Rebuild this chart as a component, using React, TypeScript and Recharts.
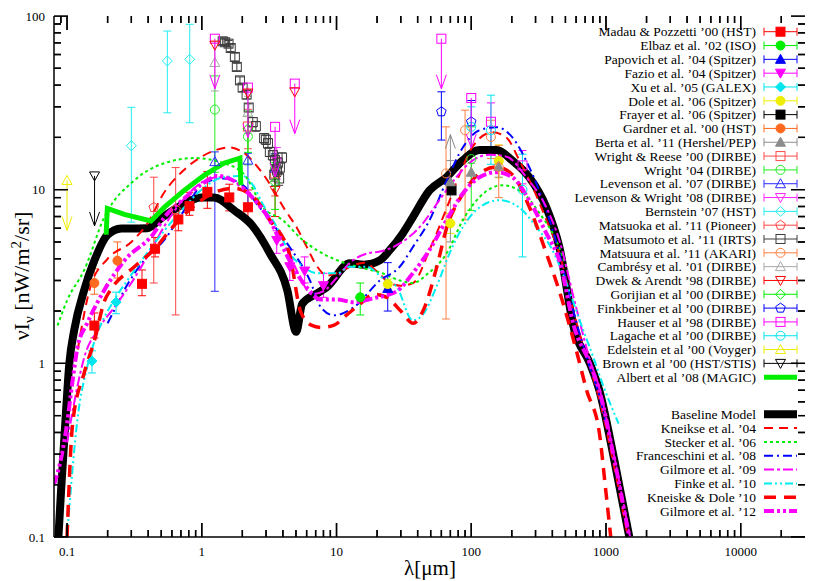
import React from 'react';
import { ComposedChart, Line, Scatter, XAxis, YAxis, ErrorBar, Legend } from 'recharts';

type P = { x: number; y: number; lo?: number; hi?: number };
type Pair = [number, number];

// ---------------- axes ----------------
const X_MIN = 0.08;
const X_MAX = 30000;
const Y_MIN = 0.1;
const Y_MAX = 100;
const xMajorTicks = [0.1, 1, 10, 100, 1000, 10000];
const xTickLabels = ['0.1', '1', '10', '100', '1000', '10000'];
const yMajorTicks = [0.1, 1, 10, 100];
const yTickLabels = ['0.1', '1', '10', '100'];
const minorFactors = [2, 3, 4, 5, 6, 7, 8, 9];
const decades = [0.01, 0.1, 1, 10, 100, 1000, 10000];

// ---------------- data sets (lambda [um], nuI_nu [nW/m2/sr]) ----------------
const madauPozzetti: P[] = [
  { x: 0.1595, y: 1.65, lo: 0.25, hi: 0.3 },
  { x: 0.36, y: 2.87, lo: 0.42, hi: 0.58 },
  { x: 0.45, y: 4.57, lo: 0.47, hi: 0.73 },
  { x: 0.67, y: 6.74, lo: 0.94, hi: 1.25 },
  { x: 0.81, y: 8.04, lo: 0.92, hi: 1.62 },
  { x: 1.1, y: 9.71, lo: 1.9, hi: 3.0 },
  { x: 1.6, y: 9.02, lo: 1.47, hi: 1.73 },
  { x: 2.2, y: 7.92, lo: 1.21, hi: 2.04 },
];
const elbaz: P[] = [{ x: 15, y: 2.4, lo: 0.5, hi: 0.5 }];
const papovich: P[] = [{ x: 24, y: 2.7, lo: 0.7, hi: 1.1 }];
const fazio: P[] = [
  { x: 3.6, y: 5.1, lo: 0.8, hi: 0.7 },
  { x: 4.5, y: 3.6, lo: 0.6, hi: 0.9 },
  { x: 5.8, y: 3.4, lo: 0.5, hi: 0.7 },
  { x: 8.0, y: 2.8, lo: 0.4, hi: 0.5 },
];
const xu: P[] = [
  { x: 0.153, y: 1.03, lo: 0.15, hi: 0.15 },
  { x: 0.231, y: 2.25, lo: 0.32, hi: 0.32 },
];
const dole: P[] = [
  { x: 24, y: 2.86, lo: 0.16, hi: 0.19 },
  { x: 70, y: 6.4, lo: 0.8, hi: 0.9 },
  { x: 160, y: 14.6, lo: 2.9, hi: 3.5 },
];
const frayer: P[] = [{ x: 71.4, y: 9.9 }];
const gardner: P[] = [
  { x: 0.1595, y: 2.9, lo: 0.4, hi: 0.6 },
  { x: 0.2365, y: 3.9, lo: 0.8, hi: 1.1 },
];
const berta: P[] = [
  { x: 70, y: 11.1, lo: 6.1, hi: 3.6 },
  { x: 100, y: 12.6, lo: 1.6, hi: 1.6 },
  { x: 160, y: 13.6, lo: 1.8, hi: 1.8 },
];
const bertaLimits: P[] = [{ x: 70, y: 14.7 }];
const wrightReese: P[] = [
  { x: 2.2, y: 23.1, lo: 5.9, hi: 5.9 },
  { x: 3.5, y: 12.4, lo: 3.2, hi: 3.2 },
];
const wright04: P[] = [
  { x: 1.25, y: 28.9, lo: 16.3, hi: 16.3 },
  { x: 2.2, y: 20.2, lo: 6.3, hi: 6.3 },
  { x: 3.5, y: 13.3, lo: 2.8, hi: 2.8 },
  { x: 100, y: 15, lo: 7.4, hi: 8 },
];
const levenson07: P[] = [
  { x: 1.25, y: 14.5, lo: 11.9, hi: 2 },
  { x: 2.2, y: 14.8, lo: 6.9, hi: 1.4 },
  { x: 3.5, y: 13.3, lo: 2.8, hi: 2.8 },
];
const levensonWright08: P[] = [{ x: 3.6, y: 14.5, lo: 3, hi: 3 }];
const bernstein: P[] = [
  { x: 0.3, y: 17.9, lo: 11.4, hi: 11.9 },
  { x: 0.555, y: 55.1, lo: 27.4, hi: 26.8 },
  { x: 0.814, y: 56.3, lo: 32, hi: 33.3 },
];
const matsuoka: P[] = [
  { x: 0.44, y: 7.9, lo: 5.0, hi: 3.9 },
  { x: 0.64, y: 7.7, lo: 5.8, hi: 5.7 },
];
const matsumoto: P[] = [
  { x: 1.43, y: 71.5, lo: 3, hi: 3 },
  { x: 1.49, y: 70.6, lo: 3, hi: 3 },
  { x: 1.58, y: 69.3, lo: 3, hi: 3 },
  { x: 1.64, y: 65.4, lo: 3, hi: 3 },
  { x: 1.76, y: 58.1, lo: 3, hi: 3 },
  { x: 1.82, y: 50.9, lo: 2.5, hi: 2.5 },
  { x: 1.92, y: 42.6, lo: 2, hi: 2 },
  { x: 2.01, y: 38.7, lo: 2, hi: 2 },
  { x: 2.15, y: 35.3, lo: 2, hi: 2 },
  { x: 2.23, y: 29.7, lo: 1.5, hi: 1.5 },
  { x: 2.39, y: 24.5, lo: 1.5, hi: 1.5 },
  { x: 2.52, y: 23.2, lo: 1.5, hi: 1.5 },
  { x: 2.9, y: 19.8, lo: 1.2, hi: 1.2 },
  { x: 2.99, y: 19.4, lo: 1.2, hi: 1.2 },
  { x: 3.1, y: 18.5, lo: 1.2, hi: 1.2 },
  { x: 3.2, y: 16.5, lo: 1, hi: 1 },
  { x: 3.37, y: 15.8, lo: 1, hi: 1 },
  { x: 3.49, y: 14.8, lo: 1, hi: 1 },
  { x: 3.67, y: 14.3, lo: 1, hi: 1 },
  { x: 3.62, y: 12.9, lo: 1, hi: 1 },
  { x: 3.94, y: 15.3, lo: 1, hi: 1 },
  { x: 3.8, y: 13.4, lo: 1, hi: 1 },
  { x: 3.45, y: 12.2, lo: 1, hi: 1 },
  { x: 3.75, y: 11.6, lo: 1, hi: 1 },
];
const matsuura: P[] = [
  { x: 65, y: 12.4, lo: 10.6, hi: 10.6 },
  { x: 90, y: 22, lo: 15.3, hi: 6.7 },
  { x: 140, y: 20.1, lo: 5, hi: 5 },
  { x: 160, y: 13.5, lo: 4.5, hi: 4.5 },
];
const cambresy: P[] = [
  { x: 1.25, y: 54, lo: 17, hi: 17 },
  { x: 2.2, y: 27.8, lo: 6.7, hi: 6.7 },
];
const dwekArendt: P[] = [{ x: 3.5, y: 9.9, lo: 2.9, hi: 2.9 }];
const dwekLimits: P[] = [
  { x: 1.25, y: 68 },
  { x: 2.2, y: 36 },
  { x: 4.9, y: 36.6 },
];
const gorjian: P[] = [
  { x: 2.2, y: 22.4, lo: 6, hi: 6 },
  { x: 3.5, y: 11, lo: 3.3, hi: 3.3 },
];
const finkbeiner: P[] = [
  { x: 60, y: 28.1, lo: 8.8, hi: 8.5 },
  { x: 100, y: 24.6, lo: 8, hi: 8 },
];
const hauser: P[] = [
  { x: 140, y: 24.6, lo: 7, hi: 7 },
  { x: 240, y: 13.8, lo: 3, hi: 3 },
];
const hauserLimits: P[] = [
  { x: 1.25, y: 74 },
  { x: 2.2, y: 38.7 },
  { x: 3.5, y: 23 },
  { x: 4.9, y: 40.8 },
  { x: 60, y: 74 },
  { x: 100, y: 33.7 },
];
const lagache: P[] = [
  { x: 100, y: 23, lo: 7, hi: 7 },
  { x: 140, y: 22, lo: 8, hi: 13 },
  { x: 240, y: 10, lo: 5.9, hi: 6 },
];
const edelsteinLimits: P[] = [{ x: 0.1, y: 11.3 }];
const brownLimits: P[] = [{ x: 0.16, y: 12 }];
const albertMagic: Pair[] = [
  [0.195, 5.5], [0.199, 7.8], [0.266, 7.2], [0.42, 6.6], [0.526, 7.9], [0.74, 9.9],
  [1.04, 12.1], [1.46, 14.2], [1.92, 15.2], [1.95, 10.6],
];

// ---------------- models ----------------
const baselineModel: Pair[] = [
  [0.0863, 0.1], [0.0903, 0.186], [0.097, 0.45], [0.104, 1.0], [0.113, 1.55], [0.134, 2.64],
  [0.16, 3.93], [0.199, 5.47], [0.253, 5.97], [0.394, 6.0], [0.5, 6.84], [0.7, 8.1],
  [0.99, 9.0], [1.23, 9.0], [1.74, 7.6], [2.36, 6.24], [3.2, 4.3], [4.31, 2.64], [5.02, 1.52],
  [5.56, 2.2], [7.18, 2.53], [8.45, 2.74], [12.6, 3.77], [16, 3.7], [21, 3.92], [24.8, 4.48],
  [31, 5.6], [36.7, 6.9], [49, 9.9], [65.6, 11.8], [86, 14.7], [115, 16.9], [154, 16.9],
  [202, 14.7], [269, 11.8], [361, 7.9], [451, 4.66], [583, 1.55], [759, 1.0], [892, 0.7],
  [1153, 0.277], [1490, 0.1],
];
const kneiske04: Pair[] = [
  [0.12, 1.2], [0.15, 2.8], [0.2, 4.0], [0.3, 5.0], [0.4, 6.5], [0.52, 9.5], [0.73, 12.9],
  [1.0, 15.5], [1.3, 17], [1.6, 17.5], [2.0, 16.5], [2.7, 13], [3.4, 10], [4.0, 8], [5.1, 6],
  [6.0, 4.7], [7.2, 3.6], [8.5, 3.2], [10, 3.3], [12.6, 3.6], [16, 3.8], [19.8, 3.4],
  [24.8, 2.9], [30, 2.8], [37, 2.9], [49, 4.5], [66, 7.9], [86, 13.4], [102, 17.6],
  [144, 21.4], [182, 20], [228, 14.7], [286, 10.3], [361, 6.7], [451, 4.3], [583, 1.9],
  [759, 0.95], [892, 0.62], [1153, 0.25], [1490, 0.09],
];
const stecker06: Pair[] = [
  [0.085, 1.65], [0.1, 2.3], [0.134, 3.44], [0.189, 6.94], [0.315, 11.3], [0.526, 14.2],
  [0.88, 15.2], [1.46, 14.2], [2.09, 12.1], [2.85, 7.9], [4.0, 6.67], [5.35, 5.3],
  [7.16, 4.48], [10.1, 3.92], [14.9, 3.57], [22, 3.3], [29.5, 3.0], [36.8, 2.9], [48, 3.3],
  [65.7, 4.3], [86.6, 6.67], [115, 9.04], [170, 10.6], [240, 9.6], [322, 7.3], [427, 5.1],
  [520, 3.4],
];
const franceschini08: Pair[] = [
  [0.2, 1.7], [0.224, 2.02], [0.266, 2.64], [0.374, 3.93], [0.526, 5.12], [0.74, 7.6],
  [1.04, 10.9], [1.46, 11.6], [2.06, 10.5], [2.5, 8.5], [3.2, 6.67], [4.5, 4.66], [6.35, 3.0],
  [7.66, 2.1], [9.55, 1.89], [13.4, 2.1], [21, 3.0], [29.5, 3.6], [36.8, 4.66], [49, 6.67],
  [65.7, 11.3], [86.6, 17.5], [115, 22], [154, 22.9], [202, 20], [269, 13.5], [361, 7.6],
  [451, 4.3], [583, 1.9], [759, 0.95], [892, 0.65], [1000, 0.45],
];
const gilmore09: Pair[] = [
  [0.1, 0.35], [0.12, 0.75], [0.134, 1.08], [0.168, 1.55], [0.224, 2.1], [0.3, 2.9],
  [0.4, 4.2], [0.55, 6.5], [0.75, 9], [1.0, 11], [1.3, 11.8], [1.8, 11], [2.4, 9], [3.2, 6.5],
  [4.5, 4.2], [5.5, 3.0], [6.5, 2.5], [8, 2.6], [10, 3.1], [12.6, 3.8], [17, 4.3], [21, 4.4],
  [29.5, 4.9], [41.5, 6.1], [58, 8.7], [77.5, 11.8], [102, 14.7], [137, 15.9], [182, 15.5],
  [256, 11.8], [361, 7.9], [451, 5.1], [583, 2.3], [759, 1.05], [892, 0.72], [1153, 0.29],
  [1490, 0.105], [1600, 0.08],
];
const finke10: Pair[] = [
  [0.1, 0.1], [0.12, 0.49], [0.141, 0.95], [0.168, 1.49], [0.224, 2.32], [0.28, 3.0],
  [0.374, 4.1], [0.526, 5.8], [0.74, 7.9], [1.04, 10.3], [1.46, 11.8], [2.0, 12.0],
  [2.4, 10.6], [2.85, 8.2], [3.6, 6.1], [4.5, 4.3], [5.65, 3.6], [7.2, 3.3], [10.1, 3.3],
  [12.6, 3.6], [16.7, 3.6], [22, 3.1], [28, 2.75], [36.8, 1.77], [43.6, 1.9], [55, 2.75],
  [69, 4.3], [86.6, 6.1], [115, 7.9], [162, 8.7], [227, 7.9], [304, 6.1], [400, 4.5],
  [500, 3.0], [650, 1.7], [800, 1.1], [950, 0.75], [1240, 0.45],
];
const kneiskeDole10: Pair[] = [
  [0.1, 0.1], [0.11, 0.45], [0.134, 0.88], [0.16, 1.36], [0.19, 2.3], [0.21, 2.64],
  [0.316, 3.6], [0.44, 4.5], [0.62, 6.2], [0.88, 8.1], [1.23, 9.6], [1.74, 10.2], [2.44, 9.0],
  [3.2, 6.7], [4.5, 4.2], [5.4, 2.0], [6.5, 1.66], [7.7, 1.61], [9.6, 1.66], [11.9, 1.9],
  [15, 2.2], [19, 2.5], [23.6, 2.4], [30, 2.0], [37, 1.7], [45, 2.1], [55, 3.5], [66, 6.1],
  [87, 9.5], [115, 12.4], [154, 13.5], [202, 12.2], [269, 8], [361, 4.3], [451, 2.6],
  [600, 1.2], [718, 0.7], [892, 0.4], [1000, 0.18], [1085, 0.1],
];
const gilmore12: Pair[] = [
  [0.08, 0.2], [0.09, 0.28], [0.1, 0.45], [0.11, 0.8], [0.12, 1.25], [0.141, 1.7],
  [0.189, 2.64], [0.266, 3.9], [0.44, 5.6], [0.526, 6.9], [0.74, 8.9], [1.04, 11], [1.3, 12],
  [1.74, 11.2], [2.44, 8.8], [3.2, 6.67], [4.0, 4.66], [4.75, 3.6], [6.0, 2.74], [7.66, 2.33],
  [10.1, 2.33], [13.4, 2.25], [18.9, 2.37], [28, 2.6], [36.8, 3.3], [49, 4.5], [65.7, 6.7],
  [86.6, 9.5], [115, 11.8], [154, 12.6], [202, 11.8], [269, 8.7], [361, 5.6], [451, 3.9],
  [583, 1.6], [759, 1.0], [892, 0.7], [1153, 0.28], [1490, 0.1], [1600, 0.075],
];

// ---------------- styling tables ----------------
const FONT = "'Liberation Serif', 'Times New Roman', serif";
type Kind = 'square' | 'circle' | 'triangle' | 'triangleDown' | 'diamond' | 'pentagon' | 'none';
type DataSet = { name: string; color: string; kind: Kind; filled: boolean; data: P[] };

const dataSets: DataSet[] = [
  { name: 'Madau & Pozzetti \u201900 (HST)', color: '#ff0000', kind: 'square', filled: true, data: madauPozzetti },
  { name: 'Elbaz et al. \u201902 (ISO)', color: '#00ee00', kind: 'circle', filled: true, data: elbaz },
  { name: 'Papovich et al. \u201904 (Spitzer)', color: '#0000ff', kind: 'triangle', filled: true, data: papovich },
  { name: 'Fazio et al. \u201904 (Spitzer)', color: '#ff00ff', kind: 'triangleDown', filled: true, data: fazio },
  { name: 'Xu et al. \u201905 (GALEX)', color: '#00e5ee', kind: 'diamond', filled: true, data: xu },
  { name: 'Dole et al. \u201906 (Spitzer)', color: '#eeee00', kind: 'circle', filled: true, data: dole },
  { name: 'Frayer et al. \u201906 (Spitzer)', color: '#000000', kind: 'square', filled: true, data: frayer },
  { name: 'Gardner et al. \u201900 (HST)', color: '#ff6a20', kind: 'circle', filled: true, data: gardner },
  { name: 'Berta et al. \u201911 (Hershel/PEP)', color: '#8c8c8c', kind: 'triangle', filled: true, data: berta },
  { name: 'Wright & Reese \u201900 (DIRBE)', color: '#ff4a4a', kind: 'square', filled: false, data: wrightReese },
  { name: 'Wright \u201904 (DIRBE)', color: '#22ee22', kind: 'circle', filled: false, data: wright04 },
  { name: 'Levenson et al. \u201907 (DIRBE)', color: '#2a2aff', kind: 'triangle', filled: false, data: levenson07 },
  { name: 'Levenson & Wright \u201908 (DIRBE)', color: '#ff22ff', kind: 'triangleDown', filled: false, data: levensonWright08 },
  { name: 'Bernstein \u201907 (HST)', color: '#22eeee', kind: 'diamond', filled: false, data: bernstein },
  { name: 'Matsuoka et al. \u201911 (Pioneer)', color: '#ff4444', kind: 'pentagon', filled: false, data: matsuoka },
  { name: 'Matsumoto et al. \u201911 (IRTS)', color: '#3c3c3c', kind: 'square', filled: false, data: matsumoto },
  { name: 'Matsuura et al. \u201911 (AKARI)', color: '#ff7f40', kind: 'circle', filled: false, data: matsuura },
  { name: 'Cambr\u00e9sy et al. \u201901 (DIRBE)', color: '#a8a8a8', kind: 'triangle', filled: false, data: cambresy },
  { name: 'Dwek & Arendt \u201998 (DIRBE)', color: '#ff0000', kind: 'triangleDown', filled: false, data: dwekArendt },
  { name: 'Gorijian et al \u201900 (DIRBE)', color: '#00ee00', kind: 'diamond', filled: false, data: gorjian },
  { name: 'Finkbeiner et al \u201900 (DIRBE)', color: '#0000ff', kind: 'pentagon', filled: false, data: finkbeiner },
  { name: 'Hauser et al \u201998 (DIRBE)', color: '#ff00ff', kind: 'square', filled: false, data: hauser },
  { name: 'Lagache et al \u201900 (DIRBE)', color: '#00e5ee', kind: 'circle', filled: false, data: lagache },
  { name: 'Edelstein et al \u201900 (Voyger)', color: '#eeee00', kind: 'triangle', filled: false, data: [] },
  { name: 'Brown et al \u201900 (HST/STIS)', color: '#000000', kind: 'triangleDown', filled: false, data: [] },
];

type LimitSet = { color: string; kind: Kind; filled: boolean; dir: 'up' | 'down' | 'none'; data: P[] };
const limitSets: LimitSet[] = [
  { color: '#ff00ff', kind: 'square', filled: false, dir: 'down', data: hauserLimits },
  { color: '#ff0000', kind: 'triangleDown', filled: false, dir: 'none', data: dwekLimits },
  { color: '#eeee00', kind: 'triangle', filled: false, dir: 'down', data: edelsteinLimits },
  { color: '#000000', kind: 'triangleDown', filled: false, dir: 'down', data: brownLimits },
  { color: '#8c8c8c', kind: 'none', filled: false, dir: 'up', data: bertaLimits },
];

type Model = { name: string; color: string; width: number; dash?: string; data: Pair[] };
const models: Model[] = [
  { name: 'Baseline Model', color: '#000000', width: 8, data: baselineModel },
  { name: 'Kneikse et al. \u201904', color: '#ff0000', width: 2, dash: '9 6', data: kneiske04 },
  { name: 'Stecker et al. \u201906', color: '#00ee00', width: 2, dash: '3 3', data: stecker06 },
  { name: 'Franceschini et al. \u201908', color: '#0000ff', width: 2, dash: '9 4 2 4', data: franceschini08 },
  { name: 'Gilmore et al. \u201909', color: '#ff00ff', width: 2, dash: '10 3 3 3', data: gilmore09 },
  { name: 'Finke et al. \u201910', color: '#00eeee', width: 2, dash: '8 3 2 3 2 3', data: finke10 },
  { name: 'Kneiske & Dole \u201910', color: '#ff0000', width: 3.5, dash: '12 8', data: kneiskeDole10 },
  { name: 'Gilmore et al. \u201912', color: '#ff00ff', width: 4, dash: '10 3 3 3 3 3', data: gilmore12 },
];
const magicName = 'Albert et al \u201908 (MAGIC)';
const magicColor = '#00ee00';

// ---------------- layout ----------------
const CHART_W = 830;
const CHART_H = 581;
const M_TOP = 16;
const M_RIGHT = 25;
const Y_AXIS_W = 54;
const X_AXIS_H = 44;
const PLOT_L = Y_AXIS_W;
const PLOT_R = CHART_W - M_RIGHT;
const PLOT_T = M_TOP;
const PLOT_B = CHART_H - X_AXIS_H;
const PLOT_W = PLOT_R - PLOT_L;
const PLOT_H = PLOT_B - PLOT_T;
const LX0 = Math.log10(X_MIN);
const LX1 = Math.log10(X_MAX);
const LY0 = Math.log10(Y_MIN);
const LY1 = Math.log10(Y_MAX);
const PX_PER_DEC_X = PLOT_W / (LX1 - LX0);
const PX_PER_DEC_Y = PLOT_H / (LY1 - LY0);
// same log mapping as the chart's log axes (for the frame tick marks in the overlay)
const frameX = (v: number) => PLOT_L + (Math.log10(v) - LX0) * PX_PER_DEC_X;
const frameY = (v: number) => PLOT_B - (Math.log10(v) - LY0) * PX_PER_DEC_Y;

// ---------------- helpers ----------------
const toXY = (arr: Pair[]) => arr.map(([x, y]) => ({ x, y }));
const withErr = (arr: P[]) => arr.map((p) => ({ x: p.x, y: p.y, err: [p.lo ?? 0, p.hi ?? 0] }));
const hasErr = (arr: P[]) => arr.some((p) => p.lo !== undefined);
const isMajor = (v: number) => Math.abs(Math.log10(v) - Math.round(Math.log10(v))) < 1e-6;

const xTickValues: number[] = [...xMajorTicks];
const yTickValues: number[] = [...yMajorTicks];
decades.forEach((d) => minorFactors.forEach((f) => {
  const v = d * f;
  if (v > X_MIN * 1.0001 && v < X_MAX * 0.9999) xTickValues.push(v);
  if (v > Y_MIN * 1.0001 && v < Y_MAX * 0.9999) yTickValues.push(v);
}));
const MAJOR_LEN = 14;
const MINOR_LEN = 7;
const tickLen = (v: number) => (isMajor(v) ? MAJOR_LEN : MINOR_LEN);
const stepX = (v: number) => Math.pow(10, tickLen(v) / PX_PER_DEC_X);
const stepY = (v: number) => Math.pow(10, tickLen(v) / PX_PER_DEC_Y);

// frame tick marks as broken line series (null breaks the path between ticks)
type TP = { x: number; y: number | null };
const tickSeries: TP[][] = [
  xTickValues.flatMap((v) => [{ x: v, y: Y_MIN * 1.0005 }, { x: v, y: Y_MIN * stepY(v) }, { x: v, y: null }]),
  xTickValues.flatMap((v) => [{ x: v, y: Y_MAX * 0.9995 }, { x: v, y: Y_MAX / stepY(v) }, { x: v, y: null }]),
  yTickValues.flatMap((v) => [{ x: X_MIN * 1.0005, y: v }, { x: X_MIN * stepX(v), y: v }, { x: X_MIN * stepX(v), y: null }]),
  yTickValues.flatMap((v) => [{ x: X_MAX * 0.9995, y: v }, { x: X_MAX / stepX(v), y: v }, { x: X_MAX / stepX(v), y: null }]),
];

const X_TICK_MARGIN = 14;
const Y_TICK_MARGIN = 9;
const labelFor = (v: number, majors: number[], labels: string[]) => {
  const i = majors.findIndex((m) => Math.abs(m - v) / m < 1e-6);
  return i >= 0 ? labels[i] : '';
};
const XLabel = (p: any) => (
  <text x={p.x} y={p.y} dy="0.35em" textAnchor="middle" fontFamily={FONT} fontSize={13} fill="#000">
    {labelFor(p.payload.value, xMajorTicks, xTickLabels)}
  </text>
);
const YLabel = (p: any) => (
  <text x={p.x} y={p.y} dy="0.35em" textAnchor="end" fontFamily={FONT} fontSize={13} fill="#000">
    {labelFor(p.payload.value, yMajorTicks, yTickLabels)}
  </text>
);

function Marker({ cx, cy, kind, color, filled }: { cx: number; cy: number; kind: Kind; color: string; filled: boolean }) {
  const fill = filled ? color : 'none';
  const common = { fill, stroke: color, strokeWidth: 1 };
  switch (kind) {
    case 'square':
      return <rect x={cx - 4.5} y={cy - 4.5} width={9} height={9} {...common} />;
    case 'circle':
      return <circle cx={cx} cy={cy} r={4.5} {...common} />;
    case 'triangle':
      return <polygon points={`${cx},${cy - 5} ${cx - 5},${cy + 4} ${cx + 5},${cy + 4}`} {...common} />;
    case 'triangleDown':
      return <polygon points={`${cx},${cy + 5} ${cx - 5},${cy - 4} ${cx + 5},${cy - 4}`} {...common} />;
    case 'diamond':
      return <polygon points={`${cx},${cy - 5} ${cx + 5},${cy} ${cx},${cy + 5} ${cx - 5},${cy}`} {...common} />;
    case 'pentagon': {
      const pts = [0, 1, 2, 3, 4]
        .map((i) => {
          const a = -Math.PI / 2 + (i * 2 * Math.PI) / 5;
          return `${cx + 5 * Math.cos(a)},${cy + 5 * Math.sin(a)}`;
        })
        .join(' ');
      return <polygon points={pts} {...common} />;
    }
    default:
      return null;
  }
}

const ARROW_LEN = 50;
function LimitShape({ cx, cy, set }: { cx: number; cy: number; set: LimitSet }) {
  if (set.dir === 'none') return <Marker cx={cx} cy={cy} kind={set.kind} color={set.color} filled={set.filled} />;
  const s = set.dir === 'down' ? 1 : -1;
  const len = set.dir === 'up' ? 26 : ARROW_LEN;
  const tip = cy + s * len;
  return (
    <g>
      <line x1={cx} y1={cy} x2={cx} y2={tip} stroke={set.color} strokeWidth={1} />
      <polyline points={`${cx - 5},${tip - s * 14} ${cx},${tip} ${cx + 5},${tip - s * 14}`} fill="none" stroke={set.color} strokeWidth={1} />
      <Marker cx={cx} cy={cy} kind={set.kind} color={set.color} filled={set.filled} />
    </g>
  );
}

// ---------------- legend / titles / frame ticks overlay ----------------
const LEG_TEXT_X = 756;
const LEG_X1 = 764;
const LEG_X2 = 797;
const LEG_ROW0 = 31.7;
const LEG_STEP = 13.82;
const LEG_MODEL_ROW0 = 414.3;
const TICK_W = 1.4;

function FrameTicks() {
  const rects: React.ReactElement[] = [];
  xTickValues.forEach((v, i) => {
    const x = frameX(v) - TICK_W / 2;
    const len = tickLen(v);
    rects.push(<rect key={'xb' + i} x={x} y={PLOT_B - len} width={TICK_W} height={len} fill="#000" />);
    rects.push(<rect key={'xt' + i} x={x} y={PLOT_T} width={TICK_W} height={len} fill="#000" />);
  });
  yTickValues.forEach((v, i) => {
    const y = frameY(v) - TICK_W / 2;
    const len = tickLen(v);
    rects.push(<rect key={'yl' + i} x={PLOT_L} y={y} width={len} height={TICK_W} fill="#000" />);
    rects.push(<rect key={'yr' + i} x={PLOT_R - len} y={y} width={len} height={TICK_W} fill="#000" />);
  });
  return <g>{rects}</g>;
}

function Overlay() {
  const mid = (LEG_X1 + LEG_X2) / 2;
  return (
    <svg width={CHART_W} height={CHART_H} style={{ position: 'absolute', left: 0, top: 0, overflow: 'visible' }}>
      <g fontFamily={FONT} fontSize={13.5} fill="#000">
        {dataSets.map((d, i) => {
          const y = LEG_ROW0 + i * LEG_STEP;
          return (
            <g key={d.name}>
              <text x={LEG_TEXT_X} y={y} dy="0.35em" textAnchor="end">{d.name}</text>
              <line x1={LEG_X1} x2={LEG_X2} y1={y} y2={y} stroke={d.color} strokeWidth={1} />
              <line x1={LEG_X1} x2={LEG_X1} y1={y - 4} y2={y + 4} stroke={d.color} strokeWidth={1} />
              <line x1={LEG_X2} x2={LEG_X2} y1={y - 4} y2={y + 4} stroke={d.color} strokeWidth={1} />
              <Marker cx={mid} cy={y} kind={d.kind} color={d.color} filled={d.filled} />
            </g>
          );
        })}
        {(() => {
          const y = LEG_ROW0 + dataSets.length * LEG_STEP;
          return (
            <g>
              <text x={LEG_TEXT_X} y={y} dy="0.35em" textAnchor="end">{magicName}</text>
              <line x1={LEG_X1} x2={LEG_X2} y1={y} y2={y} stroke={magicColor} strokeWidth={5} />
            </g>
          );
        })()}
        {models.map((m, i) => {
          const y = LEG_MODEL_ROW0 + i * LEG_STEP;
          return (
            <g key={m.name}>
              <text x={LEG_TEXT_X} y={y} dy="0.35em" textAnchor="end">{m.name}</text>
              <line x1={LEG_X1} x2={LEG_X2} y1={y} y2={y} stroke={m.color} strokeWidth={m.width} strokeDasharray={m.dash} />
            </g>
          );
        })}
      </g>
      <text x={430} y={575} textAnchor="middle" fontFamily={FONT} fontSize={21} fill="#000">
        {'\u03bb[\u03bcm]'}
      </text>
      <text transform="translate(29,276) rotate(-90)" textAnchor="middle" fontFamily={FONT} fontSize={22} fill="#000">
        {'\u03bdI'}
        <tspan fontSize={15} dy={5}>{'\u03bd'}</tspan>
        <tspan dy={-5}>{' [nW/m'}</tspan>
        <tspan fontSize={15} dy={-8}>2</tspan>
        <tspan dy={8}>{'/sr]'}</tspan>
      </text>
      <FrameTicks />
    </svg>
  );
}

const axisLineStyle = { stroke: '#000', strokeWidth: 1.5 };

export default function App() {
  const ax = { xAxisId: 'b', yAxisId: 'l' };
  return (
    <div style={{ position: 'absolute', left: 0, top: 0, width: CHART_W, height: CHART_H, background: '#fff' }}>
      <ComposedChart width={CHART_W} height={CHART_H} margin={{ top: M_TOP, right: M_RIGHT, bottom: 0, left: 0 }}>
        <XAxis
          xAxisId="b" dataKey="x" type="number" scale="log" domain={[X_MIN, X_MAX]} allowDataOverflow
          orientation="bottom" height={X_AXIS_H} ticks={[...xMajorTicks]} interval={0} tickSize={0} tickMargin={X_TICK_MARGIN}
          tick={XLabel} tickLine={false} axisLine={axisLineStyle}
        />
        <XAxis
          xAxisId="t" dataKey="x" type="number" scale="log" domain={[X_MIN, X_MAX]} allowDataOverflow
          orientation="top" height={0} ticks={[...xMajorTicks]} tick={false} tickLine={false} axisLine={axisLineStyle}
        />
        <YAxis
          yAxisId="l" dataKey="y" type="number" scale="log" domain={[Y_MIN, Y_MAX]} allowDataOverflow
          orientation="left" width={Y_AXIS_W} ticks={[...yMajorTicks]} interval={0} tickSize={0} tickMargin={Y_TICK_MARGIN}
          tick={YLabel} tickLine={false} axisLine={axisLineStyle}
        />
        <YAxis
          yAxisId="r" dataKey="y" type="number" scale="log" domain={[Y_MIN, Y_MAX]} allowDataOverflow
          orientation="right" width={0} ticks={[...yMajorTicks]} tick={false} tickLine={false} axisLine={axisLineStyle}
        />

        {dataSets.filter((d) => d.data.length > 0).map((d) => (
          <Scatter
            key={'s-' + d.name}
            {...ax}
            data={withErr(d.data)}
            dataKey="y"
            isAnimationActive={false}
            shape={(p: any) => <Marker cx={p.cx} cy={p.cy} kind={d.kind} color={d.color} filled={d.filled} />}
          >
            {hasErr(d.data) && (
              <ErrorBar dataKey="err" direction="y" width={4} stroke={d.color} strokeWidth={1} isAnimationActive={false} />
            )}
          </Scatter>
        ))}
        {limitSets.map((s, i) => (
          <Scatter
            key={'l-' + i}
            {...ax}
            data={s.data}
            dataKey="y"
            isAnimationActive={false}
            shape={(p: any) => <LimitShape cx={p.cx} cy={p.cy} set={s} />}
          />
        ))}

        {models.map((m) => (
          <Line
            key={'m-' + m.name}
            {...ax}
            data={toXY(m.data)}
            dataKey="y"
            type="monotone"
            stroke={m.color}
            strokeWidth={m.width}
            strokeDasharray={m.dash}
            strokeLinejoin="round"
            dot={false}
            activeDot={false}
            isAnimationActive={false}
          />
        ))}
        <Line
          {...ax}
          data={toXY(albertMagic)}
          dataKey="y"
          type="linear"
          stroke={magicColor}
          strokeWidth={5}
          dot={false}
          activeDot={false}
          isAnimationActive={false}
        />
        {tickSeries.map((t, i) => (
          <Line
            key={'tick-' + i}
            {...ax}
            data={t}
            dataKey="y"
            type="linear"
            stroke="#000"
            strokeWidth={1.4}
            connectNulls={false}
            dot={false}
            activeDot={false}
            legendType="none"
            isAnimationActive={false}
          />
        ))}
        <Legend
          content={() => <Overlay />}
          layout="horizontal"
          verticalAlign="middle"
          align="center"
          wrapperStyle={{ position: 'absolute', left: 0, top: 0, width: CHART_W, height: CHART_H, pointerEvents: 'none' }}
        />
      </ComposedChart>
    </div>
  );
}
